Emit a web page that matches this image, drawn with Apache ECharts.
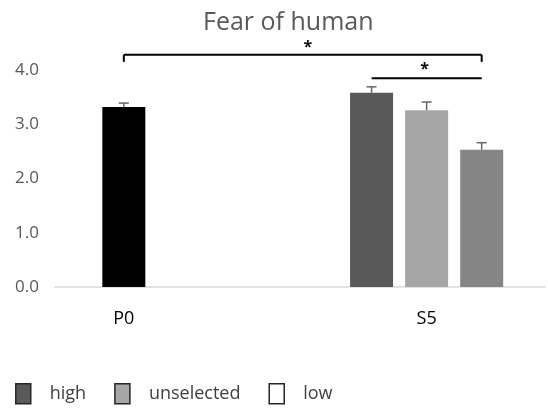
<!DOCTYPE html>
<html>
<head>
<meta charset="utf-8">
<script src="https://cdn.jsdelivr.net/npm/echarts@6/dist/echarts.min.js"></script>
<style>
html,body{margin:0;padding:0;background:#fff;}
#c{width:548px;height:408px;}
</style>
</head>
<body>
<div id="c"></div>
<script>
// ---- data ----
const categories = ['P0', 'S5'];
const legendNames = ['high', 'unselected', 'low'];
const p0Means = [3.32];
const p0Errors = [0.07];
const s5Means = [3.58, 3.26, 2.53];
const s5Errors = [0.11, 0.15, 0.13];
const yTickLabels = ['0.0', '1.0', '2.0', '3.0', '4.0'];
const sigPairs = [['P0', 'low'], ['high', 'low']];

// ---- layout (positions on the x value scale) ----
const catX = [1.25, 6.75];
const p0X = [1.25];
const s5X = [5.75, 6.75, 7.75];
const barColors = ['#595959', '#a6a6a6', '#858585'];
const legendColors = ['#595959', '#a6a6a6', '#ffffff'];
const xOf = { P0: p0X[0], high: s5X[0], unselected: s5X[1], low: s5X[2] };
const sigY = [4.28, 3.85];
const sigTick = [0.13, 0];
const sigStarY = [4.46, 4.04];

const FONT = '"Open Sans", "Noto Sans", sans-serif';
const chart = echarts.init(document.getElementById('c'), null, { renderer: 'canvas' });

const series = [];
series.push({
  name: 'P0', type: 'bar', barWidth: 43, barGap: '-100%',
  itemStyle: { color: '#000000' },
  data: p0Means.map((v, i) => [p0X[i], v]),
  z: 2
});
legendNames.forEach((n, i) => {
  series.push({
    name: n, type: 'bar', barWidth: 43, barGap: '-100%',
    itemStyle: { color: barColors[i] },
    data: [[s5X[i], s5Means[i]]],
    z: 2
  });
});
const errData = p0Means.map((v, i) => [p0X[i], v, p0Errors[i]])
  .concat(s5Means.map((v, i) => [s5X[i], v, s5Errors[i]]));
series.push({
  type: 'custom', name: 'err', silent: true, z: 3,
  data: errData,
  renderItem: function (params, api) {
    const x = api.value(0), m = api.value(1), e = api.value(2);
    const p1 = api.coord([x, m]);
    const p2 = api.coord([x, m + e]);
    const style = { stroke: '#666666', lineWidth: 1.5 };
    return { type: 'group', children: [
      { type: 'line', shape: { x1: p1[0], y1: p1[1], x2: p2[0], y2: p2[1] }, style: style },
      { type: 'line', shape: { x1: p2[0] - 5, y1: p2[1], x2: p2[0] + 5, y2: p2[1] }, style: style }
    ]};
  }
});
series.push({
  type: 'custom', name: 'sig', silent: true, z: 4, clip: false,
  data: sigPairs.map((p, i) => [xOf[p[0]], xOf[p[1]], sigY[i], sigTick[i], sigStarY[i]]),
  renderItem: function (params, api) {
    const xa = api.value(0), xb = api.value(1), y = api.value(2), t = api.value(3), sy = api.value(4);
    const a = api.coord([xa, y]), b = api.coord([xb, y]);
    const a2 = api.coord([xa, y - t]), b2 = api.coord([xb, y - t]);
    const s = api.coord([(xa + xb) / 2, sy]);
    const st = { stroke: '#000000', lineWidth: 2 };
    const ch = [
      { type: 'line', shape: { x1: a[0], y1: a[1], x2: b[0], y2: b[1] }, style: st },
      { type: 'text', style: { text: '*', x: s[0] + (t > 0 ? 5 : -2), y: s[1] + 2, fill: '#111', font: 'bold 16px ' + FONT, align: 'center', verticalAlign: 'middle' } }
    ];
    if (t > 0) {
      ch.push({ type: 'line', shape: { x1: a[0], y1: a[1], x2: a2[0], y2: a2[1] }, style: st });
      ch.push({ type: 'line', shape: { x1: b[0], y1: b[1], x2: b2[0], y2: b2[1] }, style: st });
    }
    return { type: 'group', children: ch };
  }
});

chart.setOption({
  animation: false,
  backgroundColor: '#ffffff',
  title: {
    text: 'Fear of human', left: 198, top: 5,
    textStyle: { fontFamily: FONT, fontSize: 25, fontWeight: 'normal', color: '#595959' }
  },
  legend: {
    left: 10, top: 378, orient: 'horizontal',
    itemWidth: 15, itemHeight: 20, itemGap: 28,
    icon: 'rect',
    textStyle: { fontFamily: FONT, fontSize: 18, color: '#404040', padding: [0, 0, 0, 14] },
    data: legendNames.map((n, i) => ({
      name: n,
      itemStyle: { color: legendColors[i], borderColor: '#262626', borderWidth: 1.5 }
    }))
  },
  grid: { left: 55, right: 3, top: 70, bottom: 121, containLabel: false },
  xAxis: {
    type: 'value', min: 0, max: 8.9,
    splitLine: { show: false },
    axisTick: { show: false },
    axisLine: { show: true, lineStyle: { color: '#d9d9d9', width: 1.5 } },
    axisLabel: {
      customValues: catX,
      formatter: function (v) { const i = catX.indexOf(v); return i >= 0 ? categories[i] : ''; },
      fontFamily: FONT, fontSize: 18, color: '#000000', margin: 23
    }
  },
  yAxis: {
    type: 'value', min: 0, max: 4, interval: 1,
    splitLine: { show: false },
    axisLine: { show: false },
    axisTick: { show: false },
    axisLabel: {
      formatter: function (v) { return yTickLabels[Math.round(v)]; },
      fontFamily: FONT, fontSize: 17, color: '#595959', margin: 16
    }
  },
  series: series
});
</script>
</body>
</html>
